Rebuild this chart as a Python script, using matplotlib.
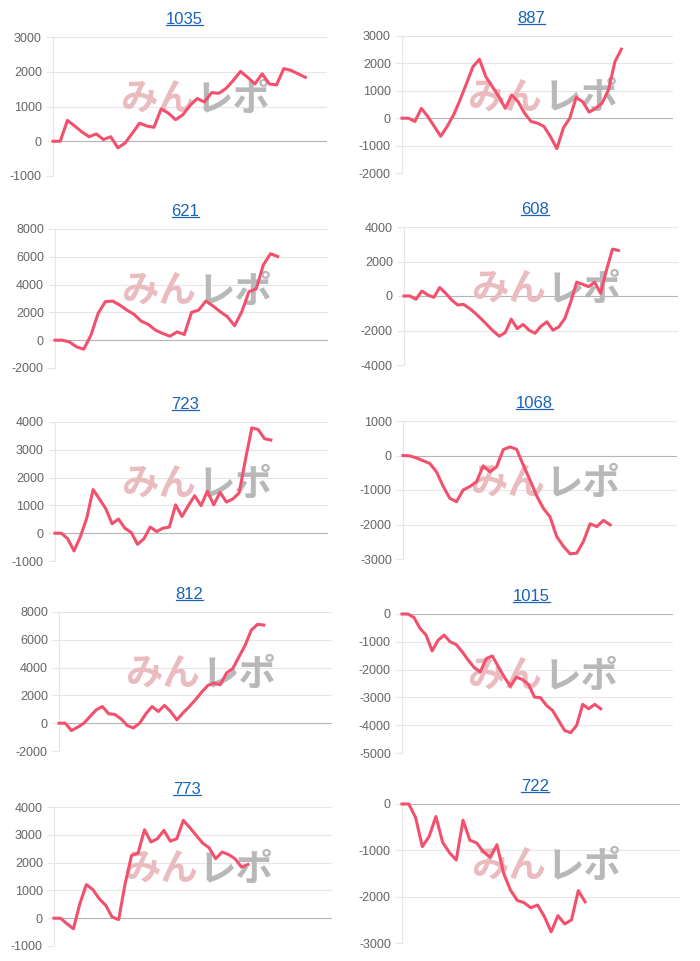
#!/usr/bin/env python3
"""
Small-multiples of cumulative balance per machine (10 panels, 5x2).
Saves out.png.
"""
import matplotlib
matplotlib.use('Agg')  # headless
import matplotlib.pyplot as plt
from matplotlib.lines import Line2D

W, H = 700, 961

titles = ['1035', '887', '621', '608', '723', '1068', '812', '1015', '773', '722']

s1035 = [0, 0, 600, 440, 270, 130, 210, 50, 130, -190, -50, 230, 520, 440, 400, 930, 810,
         620, 760, 1030, 1230, 1130, 1400, 1380, 1520, 1750, 2010, 1840, 1650, 1940, 1650,
         1620, 2090, 2040, 1940, 1840]
s887 = [0, 0, -120, 360, 60, -300, -660, -300, 120, 670, 1270, 1880, 2150, 1510, 1150, 790,
        360, 850, 600, 180, -120, -180, -300, -670, -1110, -360, 0, 760, 600, 220, 360, 545,
        1030, 2060, 2520]
s621 = [0, 0, -120, -480, -650, 360, 1930, 2770, 2820, 2530, 2170, 1860, 1370, 1130, 720,
        480, 290, 600, 410, 2000, 2170, 2820, 2460, 2050, 1690, 1040, 2050, 3490, 3690, 5420,
        6220, 6020]
s608 = [0, 0, -190, 290, 60, -80, 490, 160, -230, -520, -490, -720, -1010, -1340, -1690,
        -2040, -2330, -2120, -1340, -1890, -1650, -1980, -2160, -1750, -1500, -1980, -1790,
        -1300, -330, 800, 680, 540, 800, 160, 1510, 2720, 2640]
s723 = [0, 0, -200, -640, -120, 540, 1570, 1230, 880, 340, 510, 180, 30, -400, -200, 220, 60,
        180, 220, 1020, 600, 990, 1350, 990, 1510, 1020, 1470, 1120, 1230, 1450, 2650, 3790,
        3730, 3400, 3350]
s1068 = [0, -10, -70, -150, -230, -470, -890, -1240, -1340, -1000, -900, -760, -300, -470,
         -330, 170, 250, 180, -280, -710, -1170, -1530, -1780, -2350, -2630, -2850, -2830,
         -2490, -1980, -2060, -1880, -2010]
s812 = [0, 0, -530, -290, 0, 480, 960, 1200, 680, 630, 310, -170, -340, 0, 680, 1200, 840,
        1280, 840, 240, 750, 1200, 1690, 2240, 2720, 2890, 2770, 3610, 3930, 4770, 5610, 6700,
        7110, 7060]
s1015 = [0, 0, -130, -520, -760, -1330, -940, -760, -1000, -1100, -1360, -1660, -1930, -2080,
         -1600, -1510, -1900, -2270, -2600, -2270, -2360, -2530, -2990, -3010, -3290, -3470,
         -3830, -4190, -4270, -4010, -3250, -3410, -3250, -3410]
s773 = [0, 0, -200, -380, 520, 1210, 1030, 700, 460, 40, -50, 1240, 2260, 2340, 3180, 2740,
        2860, 3160, 2770, 2860, 3520, 3260, 2980, 2700, 2530, 2140, 2380, 2290, 2140, 1840, 1930]
s722 = [0, 0, -290, -920, -700, -270, -830, -1050, -1210, -350, -780, -840, -1030, -1150,
        -880, -1500, -1860, -2080, -2130, -2240, -2180, -2430, -2760, -2410, -2590, -2500,
        -1870, -2110]

series = [s1035, s887, s621, s608, s723, s1068, s812, s1015, s773, s722]

# y range and tick step per panel
y_ranges = [(-1000, 3000, 1000), (-2000, 3000, 1000), (-2000, 8000, 2000), (-4000, 4000, 2000),
            (-1000, 4000, 1000), (-3000, 1000, 1000), (-2000, 8000, 2000), (-5000, 0, 1000),
            (-1000, 4000, 1000), (-3000, 0, 1000)]
# number of category slots on the x axis
slots = [39, 43, 39, 47, 44, 42, 45, 46, 44, 42]

# plot boxes in image pixels: left, right, top, bottom
boxes = [(53, 327, 37, 176), (402, 673, 36, 173),
         (55, 328, 229, 368), (404, 678, 227, 365),
         (55, 328, 422, 561), (403, 677, 421, 559),
         (59, 332, 612, 751), (402, 673, 614, 753),
         (54, 332, 807, 946), (402, 680, 804, 943)]

LINE = '#f2506d'
GRID = '#e6e6e6'
ZERO = '#b5b5b5'
LINK = '#1a63b8'

plt.rcParams['font.family'] = ['Liberation Sans', 'DejaVu Sans']
plt.rcParams['axes.unicode_minus'] = False

fig = plt.figure(figsize=(W / 100, H / 100), dpi=100)
title_texts = []

for i, (name, vals) in enumerate(zip(titles, series)):
    xl, xr, yt, yb = boxes[i]
    ax = fig.add_axes([xl / W, 1 - yb / H, (xr - xl) / W, (yb - yt) / H])
    lo, hi, step = y_ranges[i]
    ax.set_ylim(lo, hi)
    ax.set_xlim(0, slots[i] - 1)
    ticks = list(range(lo, hi + 1, step))
    ax.set_yticks(ticks)
    ax.set_yticklabels([str(t) for t in ticks])
    ax.set_xticks([])
    for t in ticks:
        ax.axhline(t, color=ZERO if t == 0 else GRID, lw=0.8, zorder=0.5)
    for sp in ['top', 'right', 'bottom']:
        ax.spines[sp].set_visible(False)
    ax.spines['left'].set_color(GRID)
    ax.spines['left'].set_linewidth(0.8)
    ax.tick_params(axis='y', length=5, width=0.8, color=GRID, labelcolor='#666666',
                   labelsize=9, pad=3)

    # watermark logo
    ax.annotate('みん', xy=(0.5, 0.55), xycoords='axes fraction', xytext=(5, 0),
                textcoords='offset pixels', ha='right', va='center', fontsize=27,
                fontweight='bold', color='#eabcbf', family=['Noto Sans CJK JP'], zorder=1)
    ax.annotate('レポ', xy=(0.5, 0.55), xycoords='axes fraction', xytext=(6, 0),
                textcoords='offset pixels', ha='left', va='center', fontsize=27,
                fontweight='bold', color='#b8b8b8', family=['Noto Sans CJK JP'], zorder=1)

    ax.plot(range(len(vals)), vals, color=LINE, lw=2.2, solid_joinstyle='round', zorder=3,
            clip_on=False)

    cx = (xl + xr) / 2 - 6
    t = fig.text(cx / W, 1 - (yt - 13) / H, name, ha='center', va='baseline',
                 fontsize=12, color=LINK)
    title_texts.append(t)

# underline the titles like links
fig.canvas.draw()
for t in title_texts:
    bb = t.get_window_extent()
    y = (bb.y0 + 2.5) / H
    fig.add_artist(Line2D([bb.x0 / W, bb.x1 / W], [y, y], color=LINK, lw=0.9,
                          transform=fig.transFigure))

fig.savefig('out.png', dpi=100, facecolor='white')
